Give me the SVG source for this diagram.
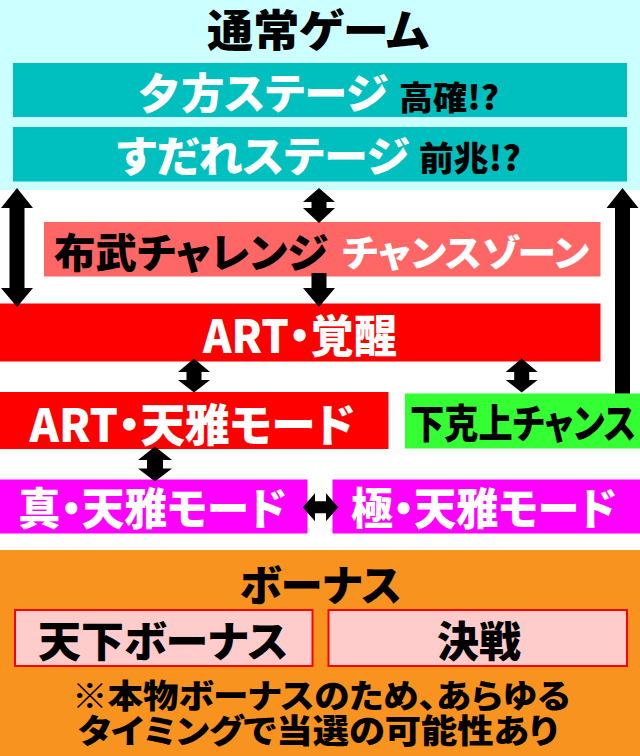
<svg xmlns="http://www.w3.org/2000/svg" width="640" height="756" viewBox="0 0 640 756">
<style>
text{font-family:"Noto Sans CJK JP","Noto Sans",sans-serif;font-weight:900;text-anchor:middle;dominant-baseline:central;font-feature-settings:"palt"}
.w{fill:#FFFFFF}
.k{fill:#000000}
.arr{fill:#000000}
</style>
<rect x="0" y="0" width="640" height="756" fill="#FFFFFF"/>
<g id="normal">
<rect x="0" y="0" width="640" height="190" fill="#CCFFFF"/>
<text class="k" x="318" y="28" font-size="44" textLength="222" lengthAdjust="spacingAndGlyphs">通常ゲーム</text>
</g>
<g id="yugata">
<rect x="13" y="63" width="614" height="54" fill="#00BFBF"/>
<text class="w" x="263" y="90" font-size="42" textLength="250" lengthAdjust="spacingAndGlyphs">夕方ステージ</text>
<text class="k" x="449" y="95.5" font-size="33" textLength="100" lengthAdjust="spacingAndGlyphs">高確!?</text>
</g>
<g id="sudare">
<rect x="13" y="127" width="614" height="54.5" fill="#00BFBF"/>
<text class="w" x="263" y="153" font-size="42" textLength="293" lengthAdjust="spacingAndGlyphs">すだれステージ</text>
<text class="k" x="470" y="156.5" font-size="34" textLength="102" lengthAdjust="spacingAndGlyphs">前兆!?</text>
</g>
<g id="challenge">
<rect x="44" y="222" width="556.5" height="54.5" fill="#FF6666"/>
<text class="k" x="191" y="250" font-size="41" textLength="274" lengthAdjust="spacingAndGlyphs">布武チャレンジ</text>
<text class="w" x="465.5" y="250.5" font-size="37" textLength="247" lengthAdjust="spacingAndGlyphs">チャンスゾーン</text>
</g>
<g id="art-kakusei">
<rect x="0" y="303.5" width="600.5" height="58" fill="#FF0000"/>
<text class="w" x="300" y="333" font-size="45" textLength="194" lengthAdjust="spacingAndGlyphs">ART・覚醒</text>
</g>
<g id="art-tenga">
<rect x="0" y="392" width="388.5" height="57" fill="#FF0000"/>
<text class="w" x="192" y="422" font-size="45" textLength="325" lengthAdjust="spacingAndGlyphs">ART・天雅モード</text>
</g>
<g id="gekokujo">
<rect x="405" y="393.5" width="235" height="55" fill="#33FF33"/>
<text class="k" x="523" y="421" font-size="40" textLength="226" lengthAdjust="spacingAndGlyphs">下克上チャンス</text>
</g>
<g id="shin-tenga">
<rect x="0" y="479.5" width="307.5" height="54" fill="#FF00FF"/>
<text class="w" x="152" y="506" font-size="44" textLength="268" lengthAdjust="spacingAndGlyphs">真・天雅モード</text>
</g>
<g id="kiwami-tenga">
<rect x="332.5" y="479.5" width="307.5" height="54" fill="#FF00FF"/>
<text class="w" x="483.5" y="506" font-size="44" textLength="265" lengthAdjust="spacingAndGlyphs">極・天雅モード</text>
</g>
<g id="bonus">
<rect x="0" y="550" width="640" height="206" fill="#F7931E"/>
<text class="k" x="320.5" y="582" font-size="42" textLength="162" lengthAdjust="spacingAndGlyphs">ボーナス</text>
<text class="k" x="321" y="693.5" font-size="33" textLength="498" lengthAdjust="spacingAndGlyphs">※本物ボーナスのため、あらゆる</text>
<text class="k" x="318" y="729" font-size="33" textLength="480" lengthAdjust="spacingAndGlyphs">タイミングで当選の可能性あり</text>
</g>
<g id="tenka-bonus">
<rect x="15" y="610" width="297.5" height="56" fill="#FFCCCC" stroke="#FF0000" stroke-width="2"/>
<text class="k" x="163" y="638" font-size="42" textLength="250" lengthAdjust="spacingAndGlyphs">天下ボーナス</text>
</g>
<g id="kessen">
<rect x="328.5" y="610" width="298.5" height="56" fill="#FFCCCC" stroke="#FF0000" stroke-width="2"/>
<text class="k" x="479" y="638" font-size="42" textLength="84" lengthAdjust="spacingAndGlyphs">決戦</text>
</g>
<g id="connectors">
<polygon class="arr" points="17,188 33,208 24.5,208 24.5,288 33,288 17,307 1,288 9.5,288 9.5,208 1,208"/>
<polygon class="arr" points="319,188 335,202 326.5,202 326.5,208 335,208 319,223 303,208 311.5,208 311.5,202 303,202"/>
<polygon class="arr" points="311.5,273 326.5,273 326.5,288 335,288 319,307 303,288 311.5,288"/>
<polygon class="arr" points="622.5,188 638.5,208 630,208 630,393.5 615,393.5 615,208 606.5,208"/>
<polygon class="arr" points="194,358.5 210,372 201.5,372 201.5,380 210,380 194,392.5 178,380 186.5,380 186.5,372 178,372"/>
<polygon class="arr" points="521.7,358.5 537.7,372 529.2,372 529.2,380 537.7,380 521.7,392.5 505.7,380 514.2,380 514.2,372 505.7,372"/>
<polygon class="arr" points="155,446.5 172,460 163,460 163,468.5 172,468.5 155,481.5 138,468.5 147,468.5 147,460 138,460"/>
<polygon class="arr" points="302.7,507.3 315,493.3 315,501.3 326,501.3 326,493.3 338.3,507.3 326,521.3 326,513.3 315,513.3 315,521.3"/>
</g>
</svg>
